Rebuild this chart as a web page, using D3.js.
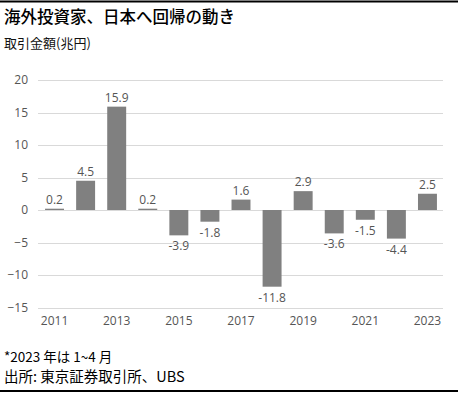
<!DOCTYPE html>
<html><head><meta charset="utf-8">
<script src="https://cdn.jsdelivr.net/npm/d3@7"></script>
<style>
body{margin:0;background:#fff;}
svg{display:block;}
</style></head>
<body>
<script>
const years = [2011,2012,2013,2014,2015,2016,2017,2018,2019,2020,2021,2022,2023];
const values = [0.2,4.5,15.9,0.2,-3.9,-1.8,1.6,-11.8,2.9,-3.6,-1.5,-4.4,2.5];
const yTicks = [20,15,10,5,0,-5,-10,-15];
const xTickLabels = [2011,2013,2015,2017,2019,2021,2023];
const title = "海外投資家、日本へ回帰の動き";
const subtitle = "取引金額(兆円)";
const notes = ["*2023 年は 1~4 月","出所: 東京証券取引所、UBS"];

const W=458,H=393;
const svg=d3.select("body").append("svg").attr("width",W).attr("height",H);
const jp="'Noto Sans CJK JP','Noto Sans',sans-serif";
const num="'Open Sans','Noto Sans',sans-serif";

svg.append("line").attr("x1",0).attr("x2",W).attr("y1",1.5).attr("y2",1.5).attr("stroke","#000").attr("stroke-width",2);
svg.append("line").attr("x1",0).attr("x2",W).attr("y1",391).attr("y2",391).attr("stroke","#000").attr("stroke-width",2);

svg.append("text").attr("x",4).attr("y",23).text(title).attr("font-family",jp).attr("font-size",16.5).attr("font-weight",500).attr("fill","#000");
svg.append("text").attr("x",4).attr("y",48).text(subtitle).attr("font-family",jp).attr("font-size",13).attr("fill","#111");

const x=d3.scaleBand().domain(years).range([39,443]).paddingInner(0.39).paddingOuter(0.195);
const y=d3.scaleLinear().domain([-15,20]).range([307.5,80]);

const g=svg.append("g");
g.selectAll("line.grid").data(yTicks).join("line").attr("class","grid")
 .attr("x1",38).attr("x2",443).attr("y1",d=>Math.round(y(d))+0.5).attr("y2",d=>Math.round(y(d))+0.5)
 .attr("stroke","#d9d9d9").attr("stroke-width",1);

const yAxis=d3.axisLeft(y).tickValues(yTicks).tickSize(0).tickPadding(0);
const ya=svg.append("g").attr("transform","translate(28,0)").call(yAxis);
ya.select(".domain").remove();
ya.selectAll("text").attr("font-family",num).attr("font-size",12).attr("fill","#555");

const xAxis=d3.axisBottom(x).tickValues(xTickLabels).tickSize(0).tickPadding(0);
const xa=svg.append("g").attr("transform","translate(0,316)").call(xAxis);
xa.select(".domain").remove();
xa.selectAll("text").attr("font-family",num).attr("font-size",12).attr("fill","#555");

g.selectAll("rect.bar").data(years).join("rect").attr("class","bar")
 .attr("x",d=>x(d)).attr("width",x.bandwidth())
 .attr("y",(d,i)=>y(Math.max(0,values[i])))
 .attr("height",(d,i)=>Math.abs(y(values[i])-y(0)))
 .attr("fill","#808080");

g.selectAll("text.val").data(years).join("text").attr("class","val")
 .attr("x",d=>x(d)+x.bandwidth()/2)
 .attr("y",(d,i)=>values[i]>=0? y(values[i])-5 : y(values[i])+15)
 .attr("text-anchor","middle")
 .attr("font-family",num).attr("font-size",12).attr("fill","#555")
 .text((d,i)=>d3.format(".1f")(values[i]).replace("−","-"));

svg.selectAll("text.note").data(notes).join("text").attr("class","note")
 .attr("x",4).attr("y",(d,i)=>362+i*20).text(d=>d)
 .attr("font-family",jp).attr("font-size",(d,i)=>i===0?13.5:14.5).attr("fill","#000");
</script>
</body></html>
